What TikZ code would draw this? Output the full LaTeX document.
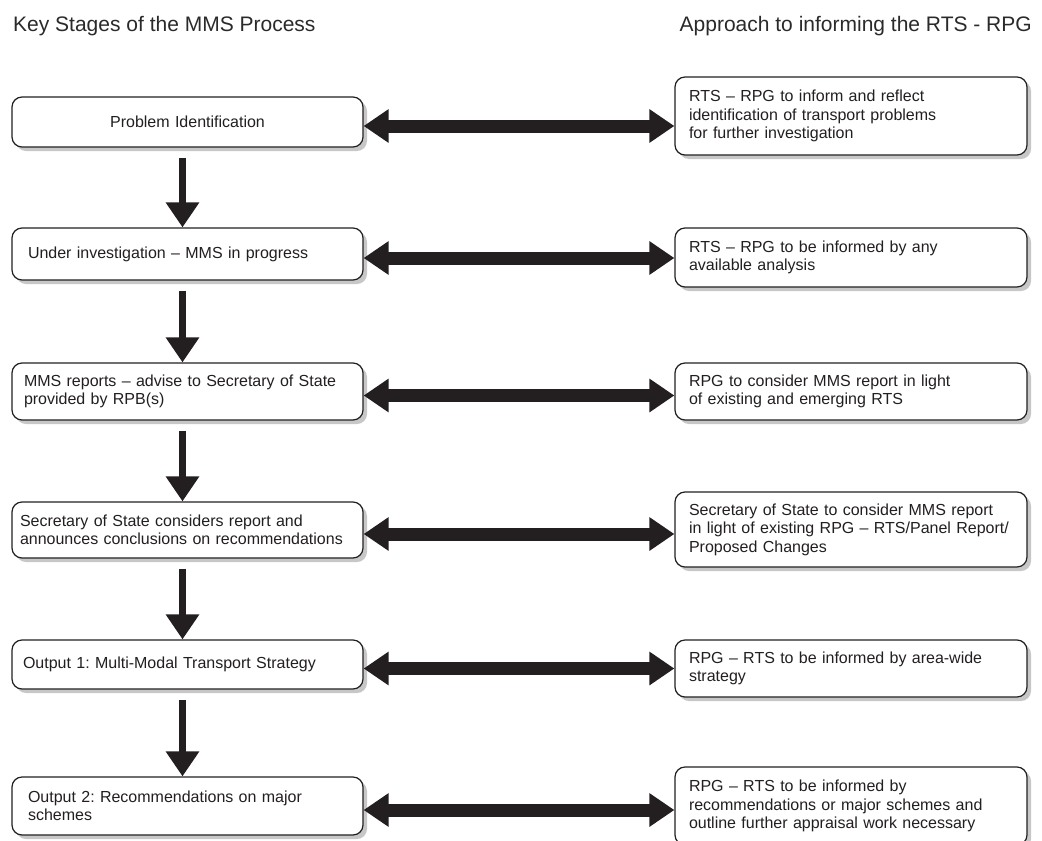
\documentclass[tikz,border=0pt]{standalone}
\usepackage{fontspec}
\setmainfont{Liberation Sans}
\usetikzlibrary{arrows.meta}
\usetikzlibrary{shadows}
\usetikzlibrary{positioning}

\definecolor{ink}{HTML}{231F20}
\definecolor{headgrey}{HTML}{2A2A2A}
\frenchspacing
\hyphenpenalty=10000
\exhyphenpenalty=10000

\begin{document}
\begin{tikzpicture}[x=1pt, y=-1pt,
    stage/.style={draw=ink, line width=1.2pt, rounded corners=10pt, fill=white,
      drop shadow={shadow xshift=4pt, shadow yshift=-4pt, fill=black!22, opacity=1},
      text width=335pt, inner xsep=8pt, align=left, text=ink,
      font=\fontsize{16}{18.5}\selectfont},
    approach/.style={stage, text width=324pt, inner xsep=14pt},
    heading/.style={font=\fontsize{21}{24}\selectfont, text=headgrey, inner sep=0pt},
    linkarrow/.style={ink, line width=13pt,
      {Triangle[length=25pt,width=32pt]}-{Triangle[length=25pt,width=32pt]}},
    flowarrow/.style={ink, line width=7pt, -{Triangle[length=25pt,width=32pt]}}]
  \useasboundingbox (0,0) rectangle (1042,841);
  % Column centres
  \def\lx{187.5}
  \def\rx{851}
  % Column headings
  \node[heading, anchor=base west] (lhead) at (13,31) {Key Stages of the MMS Process};
  \node[heading, anchor=base east] (rhead) at (1032,31) {Approach to informing the RTS - RPG};
  % Key stages (left column)
  \node[stage, align=center, minimum height=50pt] (l1) at (\lx,122) {Problem Identification};
  \node[stage, minimum height=52pt] (l2) at (\lx,254) {\hspace*{8pt}Under investigation -- MMS in progress};
  \node[stage, minimum height=57pt] (l3) at (\lx,391.5) {\hspace*{4pt}MMS reports -- advise to Secretary of State\\\hspace*{4pt}provided by RPB(s)};
  \node[stage, minimum height=56pt] (l4) at (\lx,530) {Secretary of State considers report and\\announces conclusions on recommendations};
  \node[stage, minimum height=49pt] (l5) at (\lx,664.5) {\hspace*{3pt}Output 1: Multi-Modal Transport Strategy};
  \node[stage, minimum height=58pt] (l6) at (\lx,806) {\hspace*{8pt}Output 2: Recommendations on major\\\hspace*{8pt}schemes};
  % Approach to the RTS - RPG (right column)
  \node[approach, minimum height=78pt] (r1) at (\rx,116) {RTS -- RPG to inform and reflect\\identification of transport problems\\for further investigation};
  \node[approach, minimum height=59pt] (r2) at (\rx,257.5) {RTS -- RPG to be informed by any\\available analysis};
  \node[approach, minimum height=57pt] (r3) at (\rx,391.5) {RPG to consider MMS report in light\\of existing and emerging RTS};
  \node[approach, minimum height=75pt] (r4) at (\rx,529.5) {Secretary of State to consider MMS report\\in light of existing RPG -- RTS/Panel Report/\\Proposed Changes};
  \node[approach, minimum height=57pt] (r5) at (\rx,668.5) {RPG -- RTS to be informed by area-wide\\strategy};
  \node[approach, minimum height=78pt] (r6) at (\rx,806) {RPG -- RTS to be informed by\\recommendations or major schemes and\\outline further appraisal work necessary};
  % Two-way links between the columns
  \foreach \i in {1,...,6} {
    \coordinate (a\i) at ([yshift=-4pt]l\i.east);
    \draw[linkarrow] (a\i) -- (a\i -| r\i.west);
  }
  % Flow down the key stages
  \foreach \i [count=\j from 2] in {1,...,5} {
    \draw[flowarrow, shorten <=10pt] ([xshift=-5pt]l\i.south) -- ([xshift=-5pt]l\j.north);
  }
\end{tikzpicture}
\end{document}
